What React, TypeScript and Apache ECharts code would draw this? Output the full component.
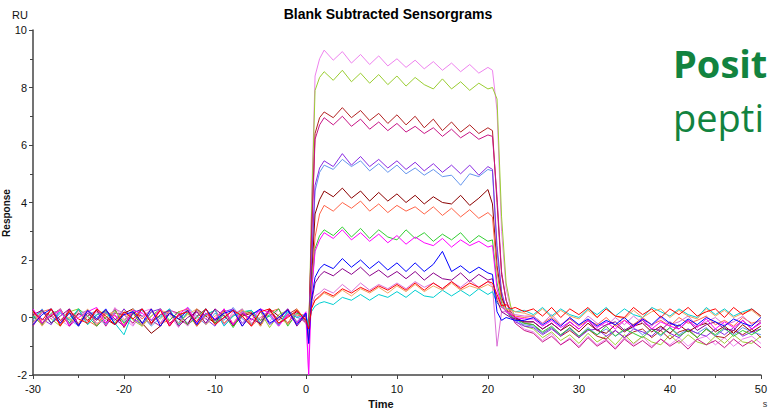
import React, { useEffect, useRef } from "react";
import * as echarts from "echarts";

// Sampling times (s)
const TIME = [
  -30, -29, -28, -27, -26, -25, -24, -23, -22, -21, -20, -19, -18, -17, -16, -15, -14, -13, -12, -11, -10, -9, -8, -7, -6, -5, -4, -3, -2, -1, 0,
  0.3, 0.6, 1, 1.5, 2, 3, 4, 5, 6, 7, 8, 9, 10, 11, 12, 13, 14, 15, 16, 17, 18, 19, 20, 20.5,
  21, 21.5, 22, 22.5, 23, 24, 25, 26, 27, 28, 29, 30, 31, 32, 33, 34, 35, 36, 37, 38, 39, 40, 41, 42, 43, 44, 45, 46, 47, 48, 49, 50,
];

const X_TICKS = [-30, -20, -10, 0, 10, 20, 30, 40, 50];
const Y_TICKS = [-2, 0, 2, 4, 6, 8, 10];

// Responses (RU), one array per sensorgram: baseline, association, dissociation
const VIOLET = [
  0.2, -0.25, 0.3, -0.1, -0.3, 0.25, -0.15, 0.2, -0.3, 0.35, -0.05, -0.3, 0.2, 0.3, -0.2, 0.1, -0.35, 0.25, -0.05, -0.2, 0.3, -0.25, 0.2, 0.0, -0.3, 0.25, -0.15, 0.3, -0.2, 0.2, -0.1,
  -1.95, 3.8, 8.4, 9.0, 9.3, 8.95, 9.25, 8.85, 9.15, 8.8, 9.1, 8.75, 9.0, 8.7, 8.95, 8.65, 8.9, 8.6, 8.85, 8.55, 8.8, 8.5, 8.7, 8.6,
  7.2, 3.0, 1.0, 0.3, -0.1, -0.4, -0.5, -0.8, -0.55, -0.95, -0.7, -1.0, -0.65, -0.95, -0.75, -1.05, -0.7, -0.95, -0.65, -1.0, -0.75, -0.95, -0.7, -1.0, -0.75, -0.65, -0.95, -0.7, -1.0, -0.75, -0.65, -0.9,
];
const YELLOWGREEN = [
  -0.2, 0.25, -0.05, -0.3, 0.2, 0.3, -0.25, 0.1, 0.25, -0.2, 0.3, -0.1, -0.3, 0.2, -0.05, 0.25, -0.25, 0.15, -0.3, 0.1, 0.25, -0.2, 0.05, 0.3, -0.25, 0.2, -0.35, 0.1, 0.25, -0.2, 0.1,
  -0.6, 3.5, 7.9, 8.35, 8.55, 8.25, 8.6, 8.2, 8.5, 8.15, 8.45, 8.1, 8.4, 8.05, 8.35, 8.1, 7.95, 8.3, 7.95, 8.2, 7.9, 8.15, 7.95, 8.0,
  7.6, 3.5, 1.2, 0.4, 0.0, -0.3, -0.4, -0.7, -0.5, -0.8, -0.6, -0.9, -0.55, -0.85, -0.65, -0.95, -0.6, -0.9, -0.65, -0.85, -0.95, -0.6, -0.9, -0.6, -0.85, -0.95, -0.65, -0.9, -0.6, -0.85, -0.9, -0.65,
];
const FIREBRICK = [
  0.1, -0.25, 0.3, -0.1, 0.2, -0.3, 0.25, -0.05, -0.2, 0.3, -0.35, 0.15, 0.05, -0.25, 0.3, -0.2, 0.05, 0.25, -0.3, 0.15, -0.1, 0.3, -0.25, 0.1, 0.2, -0.3, 0.25, -0.2, 0.1, 0.3, -0.15,
  -0.4, 2.8, 6.4, 6.95, 7.15, 6.95, 7.3, 6.95, 7.2, 6.85, 7.1, 6.75, 7.05, 6.7, 7.0, 6.6, 6.9, 6.5, 6.8, 6.45, 6.7, 6.4, 6.6, 6.5,
  4.0, 1.5, 0.6, 0.2, 0.0, -0.2, -0.25, -0.55, -0.35, -0.65, -0.45, -0.7, -0.4, -0.65, -0.75, -0.45, -0.7, -0.5, -0.4, -0.7, -0.45, -0.75, -0.5, -0.4, -0.7, -0.4, -0.65, -0.7, -0.45, -0.6, -0.4, -0.7,
];
const VIOLETRED = [
  -0.3, 0.2, 0.05, -0.2, 0.3, -0.25, 0.05, 0.25, -0.3, 0.15, 0.1, -0.2, 0.3, -0.1, -0.3, 0.25, 0.15, -0.25, 0.05, 0.3, -0.2, 0.0, 0.25, -0.3, 0.15, -0.1, 0.3, -0.25, 0.05, 0.2, -0.2,
  -0.5, 2.6, 6.2, 6.7, 6.95, 6.7, 7.0, 6.65, 6.9, 6.55, 6.8, 6.5, 6.75, 6.45, 6.65, 6.4, 6.6, 6.3, 6.55, 6.25, 6.45, 6.2, 6.35, 6.3,
  4.2, 1.6, 0.6, 0.1, -0.2, -0.45, -0.55, -0.85, -0.65, -0.95, -0.75, -1.05, -0.7, -1.0, -0.8, -1.1, -0.75, -1.0, -0.8, -1.05, -0.75, -1.0, -0.8, -1.1, -0.75, -0.95, -0.8, -1.05, -0.75, -1.0, -0.8, -1.05,
];
const BLUEVIOLET = [
  0.2, -0.05, -0.25, 0.3, -0.2, 0.1, 0.25, -0.3, 0.15, -0.1, 0.3, -0.05, -0.25, 0.2, 0.3, -0.3, 0.1, -0.2, 0.25, -0.05, -0.3, 0.2, 0.3, -0.2, 0.1, 0.25, -0.25, 0.0, 0.3, -0.15, 0.15,
  -0.8, 1.8, 4.6, 5.2, 5.45, 5.25, 5.7, 5.3, 5.6, 5.25, 5.5, 5.2, 5.45, 5.15, 5.4, 5.1, 5.35, 5.05, 5.3, 5.0, 5.3, 4.95, 5.25, 5.15,
  2.5, 0.9, 0.3, 0.0, -0.15, -0.3, -0.35, -0.6, -0.4, -0.65, -0.35, -0.7, -0.45, -0.4, -0.65, -0.45, -0.7, -0.4, -0.5, -0.65, -0.35, -0.55, -0.7, -0.4, -0.55, -0.65, -0.4, -0.6, -0.35, -0.65, -0.5, -0.4,
];
const CORNFLOWER = [
  -0.1, 0.3, -0.2, 0.15, -0.05, -0.3, 0.25, 0.05, -0.25, 0.2, -0.15, 0.3, 0.05, -0.3, 0.0, 0.25, -0.2, 0.35, 0.05, -0.25, 0.15, -0.1, 0.35, -0.05, -0.25, 0.2, 0.05, -0.3, 0.25, 0.0, -0.1,
  -0.5, 1.6, 4.4, 5.05, 5.3, 5.15, 5.5, 5.25, 5.45, 5.1, 5.35, 5.05, 5.3, 5.0, 5.2, 4.95, 5.15, 4.9, 4.95, 4.6, 5.0, 4.9, 5.15, 5.1,
  2.3, 0.8, 0.3, 0.05, -0.1, -0.25, -0.3, -0.55, -0.35, -0.6, -0.4, -0.65, -0.35, -0.6, -0.4, -0.65, -0.45, -0.35, -0.6, -0.4, -0.65, -0.35, -0.6, -0.4, -0.55, -0.35, -0.65, -0.4, -0.6, -0.35, -0.5, -0.6,
];
const DARKRED = [
  0.25, -0.2, 0.05, 0.3, -0.3, 0.15, -0.1, 0.25, -0.05, -0.25, 0.15, 0.3, -0.2, -0.55, -0.3, 0.15, -0.05, -0.25, 0.3, 0.05, -0.2, 0.25, -0.3, 0.05, 0.15, -0.25, 0.3, 0.05, -0.2, 0.25, -0.1,
  -0.3, 1.2, 3.6, 4.1, 4.4, 4.2, 4.5, 4.15, 4.4, 4.05, 4.35, 4.05, 4.3, 4.0, 4.25, 3.95, 4.2, 4.0, 3.95, 4.25, 3.9, 4.15, 4.45, 3.95,
  1.8, 0.7, 0.3, 0.1, 0.0, -0.15, -0.15, -0.4, -0.2, -0.45, -0.25, -0.5, -0.2, -0.45, -0.55, -0.25, -0.5, -0.3, -0.2, -0.5, -0.3, -0.55, -0.25, -0.5, -0.3, -0.2, -0.5, -0.3, -0.55, -0.25, -0.5, -0.3,
];
const TOMATO = [
  -0.2, 0.2, 0.3, -0.25, 0.0, 0.25, -0.1, -0.3, 0.2, 0.05, -0.25, 0.25, -0.05, 0.3, -0.2, -0.1, 0.2, 0.3, -0.3, 0.05, 0.25, -0.2, 0.1, 0.25, -0.3, 0.0, 0.2, 0.3, -0.25, 0.1, -0.05,
  -0.3, 1.0, 2.8, 3.6, 3.9, 3.7, 4.0, 3.8, 4.05, 3.7, 3.95, 3.65, 3.9, 3.7, 3.85, 3.6, 3.85, 3.55, 3.8, 3.5, 3.75, 3.45, 3.65, 3.5,
  1.6, 0.6, 0.3, 0.15, 0.05, 0.0, 0.05, -0.2, 0.0, -0.25, -0.05, -0.3, -0.1, -0.25, 0.0, -0.3, -0.1, -0.25, 0.0, -0.25, -0.1, -0.3, 0.0, -0.2, -0.1, 0.05, -0.25, -0.1, -0.3, 0.0, -0.2, -0.1,
];
const LIMEGREEN = [
  0.05, -0.25, 0.15, 0.25, -0.2, 0.3, 0.05, -0.3, 0.0, 0.25, -0.2, 0.15, -0.3, 0.05, 0.3, -0.1, 0.2, -0.25, 0.0, 0.3, -0.2, 0.1, -0.35, 0.15, 0.25, -0.1, 0.05, 0.3, -0.3, 0.15, 0.05,
  -0.4, 0.9, 2.4, 2.85, 3.05, 2.85, 3.15, 2.8, 3.1, 2.75, 3.05, 2.8, 2.7, 3.05, 2.75, 2.95, 2.65, 2.9, 2.7, 2.95, 2.6, 2.85, 2.65, 2.7,
  1.2, 0.5, 0.2, 0.05, -0.05, -0.2, -0.25, -0.5, -0.3, -0.6, -0.35, -0.65, -0.4, -0.6, -0.3, -0.65, -0.4, -0.55, -0.7, -0.4, -0.6, -0.35, -0.65, -0.45, -0.7, -0.4, -0.6, -0.35, -0.65, -0.45, -0.6, -0.4,
];
const MAGENTA = [
  0.3, -0.2, 0.1, 0.25, -0.3, 0.0, 0.2, 0.35, -0.2, 0.1, -0.3, 0.25, 0.15, -0.1, 0.3, -0.25, 0.1, 0.35, -0.2, 0.15, -0.05, 0.3, -0.25, 0.2, -0.1, 0.3, 0.15, -0.3, 0.1, -0.2, 0.2,
  -2.0, 0.8, 2.3, 2.7, 2.95, 2.75, 3.05, 2.7, 2.95, 2.65, 2.9, 2.6, 2.85, 2.55, 2.8, 2.6, 2.5, 2.75, 2.45, 2.7, 2.5, 2.65, 2.45, 2.5,
  1.0, 0.4, 0.2, 0.1, 0.0, -0.05, -0.05, -0.3, -0.1, -0.35, -0.15, -0.4, -0.1, -0.35, -0.15, -0.4, -0.1, -0.35, -0.05, -0.4, -0.15, -0.3, -0.4, -0.1, -0.35, -0.05, -0.4, -0.15, -0.35, -0.1, -0.4, -0.2,
];
const BLUE = [
  -0.25, 0.1, 0.3, -0.2, 0.15, -0.3, 0.25, -0.05, 0.3, -0.25, 0.1, 0.2, -0.2, 0.3, -0.3, 0.15, -0.05, 0.25, -0.25, 0.3, -0.1, 0.15, 0.25, -0.3, 0.1, 0.3, -0.2, 0.0, 0.25, -0.25, 0.15,
  -0.9, 0.6, 1.4, 1.7, 1.85, 1.7, 2.05, 1.75, 2.0, 1.7, 1.95, 1.65, 1.9, 1.6, 1.9, 1.6, 1.85, 2.3, 1.6, 1.8, 1.55, 1.75, 1.55, 1.5,
  0.2, -0.1, 0.0, -0.05, -0.1, -0.1, 0.0, -0.25, -0.05, -0.3, 0.0, -0.25, -0.05, -0.3, -0.1, -0.25, 0.0, -0.3, -0.05, -0.25, 0.05, -0.2, -0.3, -0.05, -0.25, 0.0, -0.15, -0.3, -0.05, -0.2, -0.3, 0.0,
];
const PURPLE = [
  0.1, 0.25, -0.2, 0.05, 0.3, -0.25, 0.15, -0.1, 0.25, -0.05, -0.3, 0.15, 0.3, -0.2, 0.1, 0.25, -0.3, 0.0, 0.2, -0.2, 0.3, 0.05, -0.25, 0.15, -0.05, -0.2, 0.25, -0.1, 0.3, -0.3, 0.1,
  -0.9, 0.5, 1.2, 1.45, 1.6, 1.45, 1.7, 1.5, 1.75, 1.45, 1.65, 1.4, 1.6, 1.35, 1.6, 1.3, 1.55, 1.35, 1.3, 1.55, 1.25, 1.5, 1.3, 1.35,
  0.6, 0.2, 0.1, 0.0, -0.05, -0.15, -0.15, -0.4, -0.2, -0.45, -0.15, -0.4, -0.1, -0.45, -0.25, -0.15, -0.45, -0.25, -0.1, -0.4, -0.45, -0.15, -0.4, -0.1, -0.45, -0.25, -0.15, -0.4, -0.45, -0.1, -0.4, -0.15,
];
const ORCHID = [
  -0.2, 0.2, -0.05, 0.3, -0.25, 0.1, 0.25, -0.2, -0.1, 0.3, 0.15, -0.25, 0.05, 0.25, -0.2, 0.3, 0.05, -0.3, 0.2, -0.05, 0.25, -0.25, 0.1, 0.3, -0.2, 0.0, 0.25, -0.25, 0.15, 0.05, -0.2,
  -0.4, 0.4, 0.75, 0.85, 1.0, 0.85, 1.15, 0.9, 1.2, 0.95, 1.15, 1.0, 1.2, 1.0, 1.25, 1.05, 1.2, 1.0, 1.25, 1.05, 1.3, 1.05, 1.25, 1.1,
  -1.0, 0.2, 0.2, 0.15, 0.1, 0.05, 0.05, -0.2, 0.1, -0.25, 0.0, -0.3, 0.05, -0.2, -0.3, 0.0, -0.25, 0.05, -0.2, -0.3, 0.0, -0.25, -0.15, 0.05, -0.3, -0.15, 0.0, -0.25, -0.15, 0.05, -0.25, -0.1,
];
const RED = [
  0.2, -0.1, 0.3, -0.3, 0.25, -0.05, -0.2, 0.3, 0.05, -0.25, 0.2, -0.05, 0.3, -0.2, 0.25, -0.3, 0.1, 0.2, -0.15, 0.3, -0.25, 0.0, 0.25, 0.05, -0.3, 0.2, 0.3, -0.2, 0.0, 0.25, -0.1,
  -0.4, 0.3, 0.6, 0.75, 0.9, 0.75, 1.0, 0.85, 1.05, 0.9, 1.1, 0.95, 1.15, 0.95, 1.2, 0.95, 1.2, 1.0, 1.25, 1.0, 1.2, 1.05, 1.25, 1.2,
  0.8, 0.4, 0.45, 0.3, 0.35, 0.2, 0.3, 0.05, 0.35, 0.0, 0.3, 0.1, 0.35, 0.0, 0.3, 0.05, 0.0, 0.35, 0.1, 0.3, 0.0, 0.3, 0.1, 0.35, 0.05, 0.2, 0.3, 0.0, 0.35, 0.1, 0.3, 0.05,
];
const TURQUOISE = [
  0.0, 0.25, -0.2, 0.2, -0.1, 0.3, -0.25, 0.1, 0.2, -0.2, -0.6, 0.2, 0.25, -0.1, 0.05, 0.3, -0.25, 0.2, -0.2, 0.1, 0.25, -0.3, 0.05, 0.2, 0.25, -0.2, 0.1, -0.25, 0.2, 0.0, 0.1,
  -0.3, 0.2, 0.4, 0.5, 0.55, 0.45, 0.7, 0.6, 0.8, 0.6, 0.8, 0.7, 0.9, 0.7, 0.95, 0.75, 0.7, 0.95, 0.75, 0.95, 0.75, 1.0, 0.8, 0.9,
  0.5, 0.35, 0.3, 0.3, 0.2, 0.25, 0.1, 0.35, 0.05, 0.3, 0.1, 0.0, 0.3, 0.1, 0.35, 0.05, 0.3, 0.1, 0.0, 0.35, 0.2, 0.05, 0.3, 0.1, 0.0, 0.35, 0.1, 0.3, 0.05, 0.2, 0.3, 0.05,
];
const SANDYBROWN = [
  0.2, -0.3, 0.1, 0.25, -0.05, -0.2, 0.3, -0.25, 0.1, 0.2, -0.1, 0.3, -0.3, 0.05, 0.25, 0.15, -0.2, 0.1, 0.3, -0.25, 0.05, 0.2, -0.2, 0.25, 0.1, -0.3, 0.2, -0.05, -0.2, 0.3, -0.1,
  -0.7, 0.35, 0.6, 0.7, 0.85, 0.7, 0.95, 0.75, 1.0, 0.85, 1.05, 0.85, 1.1, 0.9, 1.15, 0.9, 1.1, 0.95, 1.2, 0.95, 1.1, 1.0, 1.15, 1.05,
  0.7, 0.35, 0.3, 0.25, 0.2, 0.15, 0.05, 0.3, 0.0, 0.25, 0.05, -0.05, 0.25, 0.0, 0.3, 0.05, -0.05, 0.25, 0.0, 0.2, 0.3, 0.0, 0.25, 0.05, -0.05, 0.3, 0.05, 0.25, 0.0, 0.15, 0.25, 0.0,
];

// Drawing order (first drawn at the back) and line colours
const CURVES = [
  { values: VIOLET, color: "#EE82EE" },
  { values: YELLOWGREEN, color: "#9ACD32" },
  { values: FIREBRICK, color: "#B22222" },
  { values: VIOLETRED, color: "#C71585" },
  { values: CORNFLOWER, color: "#6495ED" },
  { values: BLUEVIOLET, color: "#8A2BE2" },
  { values: DARKRED, color: "#8B0000" },
  { values: TOMATO, color: "#FF6347" },
  { values: LIMEGREEN, color: "#32CD32" },
  { values: ORCHID, color: "#DA70D6" },
  { values: TURQUOISE, color: "#00CED1" },
  { values: SANDYBROWN, color: "#F4A460" },
  { values: PURPLE, color: "#8B008B" },
  { values: MAGENTA, color: "#FF00FF" },
  { values: BLUE, color: "#0000FF" },
  { values: RED, color: "#FF0000" },
];

const FONT = "'Liberation Sans', Arial, sans-serif";

export default function App() {
  const ref = useRef<HTMLDivElement>(null);

  useEffect(() => {
    if (!ref.current) return;
    const chart = echarts.init(ref.current, undefined, { renderer: "svg" });
    const option = {
      animation: false,
      backgroundColor: "#ffffff",
      title: {
        text: "Blank Subtracted Sensorgrams",
        left: 383,
        top: 2,
        textAlign: "center",
        textStyle: { fontFamily: FONT, fontSize: 14, fontWeight: "bold", color: "#000" },
      },
      grid: { left: 33, right: 7, top: 30, bottom: 35 },
      xAxis: {
        type: "value",
        min: X_TICKS[0],
        max: X_TICKS[X_TICKS.length - 1],
        interval: 10,
        axisLine: { show: true, onZero: false, lineStyle: { color: "#444", width: 1.5 } },
        axisTick: { show: true, length: 4, lineStyle: { color: "#444" } },
        minorTick: { show: true, splitNumber: 2, length: 3, lineStyle: { color: "#444" } },
        splitLine: { show: false },
        axisLabel: { fontFamily: FONT, fontSize: 11, color: "#111", margin: 8 },
      },
      yAxis: {
        type: "value",
        min: Y_TICKS[0],
        max: Y_TICKS[Y_TICKS.length - 1],
        interval: 2,
        axisLine: { show: true, onZero: false, lineStyle: { color: "#444", width: 1.5 } },
        axisTick: { show: true, length: 4, lineStyle: { color: "#444" } },
        minorTick: { show: true, splitNumber: 2, length: 3, lineStyle: { color: "#444" } },
        splitLine: { show: false },
        axisLabel: { fontFamily: FONT, fontSize: 11, color: "#111", margin: 6 },
      },
      graphic: [
        { type: "text", left: 12, top: 9, style: { text: "RU", fontFamily: FONT, fontSize: 11, fill: "#111" } },
        {
          type: "text",
          x: 6,
          y: 213,
          rotation: Math.PI / 2,
          style: { text: "Response", fontFamily: FONT, fontSize: 10, fontWeight: "bold", fill: "#111", align: "center", verticalAlign: "middle" },
        },
        {
          type: "text",
          x: 381,
          y: 404,
          style: { text: "Time", fontFamily: FONT, fontSize: 11, fontWeight: "bold", fill: "#111", align: "center", verticalAlign: "middle" },
        },
        {
          type: "text",
          x: 765,
          y: 404,
          style: { text: "s", fontFamily: FONT, fontSize: 9, fill: "#333", align: "center", verticalAlign: "middle" },
        },
        {
          type: "text",
          x: 673,
          y: 63,
          style: { text: "Posit", fontFamily: "'Open Sans', sans-serif", fontSize: 38, fontWeight: "bold", fill: "#12833F", verticalAlign: "middle" },
        },
        {
          type: "text",
          x: 673,
          y: 117,
          style: { text: "pepti", fontFamily: "'Open Sans', sans-serif", fontSize: 38, fill: "#12833F", verticalAlign: "middle" },
        },
      ],
      series: CURVES.map((c) => ({
        type: "line",
        data: TIME.map((t, i) => [t, c.values[i]]),
        showSymbol: false,
        symbol: "none",
        silent: true,
        lineStyle: { color: c.color, width: 1 },
        itemStyle: { color: c.color },
      })),
    };
    chart.setOption(option as any);
    return () => chart.dispose();
  }, []);

  return <div ref={ref} style={{ width: 770, height: 410, position: "absolute", left: 0, top: 0 }} />;
}
